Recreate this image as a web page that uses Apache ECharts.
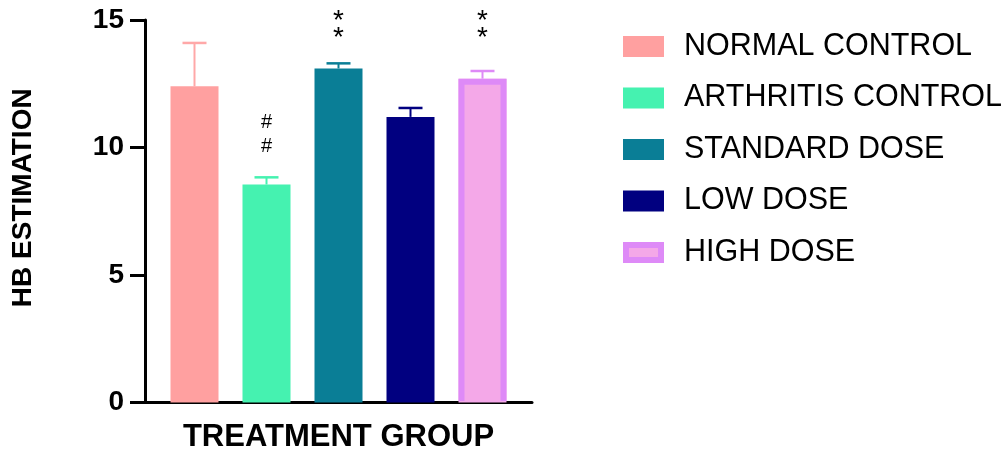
<!DOCTYPE html>
<html>
<head>
<meta charset="utf-8">
<script src="https://cdn.jsdelivr.net/npm/echarts@6/dist/echarts.min.js"></script>
<style>
  html, body { margin: 0; padding: 0; background: #ffffff; }
  #chart { width: 1008px; height: 450px; }
</style>
</head>
<body>
<div id="chart"></div>
<script>
// Treatment groups with mean haemoglobin values and their error (SEM)
const groups = ['NORMAL CONTROL', 'ARTHRITIS CONTROL', 'STANDARD DOSE', 'LOW DOSE', 'HIGH DOSE'];
const means = [12.4, 8.55, 13.1, 11.2, 12.7];
const errors = [1.7, 0.28, 0.2, 0.35, 0.3];
// Significance marks shown above each bar
const marks = ['', '#\n#', '*\n*', '', '*\n*'];
// Value axis range and tick step
const yMin = 0;
const yMax = 15;
const yStep = 5;

// Styling
const fills = ['#FFA0A0', '#45F2B0', '#0A7E96', '#010080', '#F4A8E8'];
const edges = [null, null, null, null, '#DE8AF7'];
const errColors = ['#FFA8A8', '#45F2B0', '#0A7E96', '#010080', '#DE8AF7'];
const markDistance = [0, 26, 22, 0, 32];
const FONT = "'Liberation Sans', Arial, sans-serif";
const BAR_W = 48;
const BAR_GAP = '50%';

function markStyle(m) {
  if (m.indexOf('#') >= 0) return { fontSize: 20, lineHeight: 24 };
  return { fontSize: 28, lineHeight: 17 };
}

const barSeries = groups.map((g, i) => ({
  name: g,
  type: 'bar',
  barWidth: BAR_W,
  barGap: BAR_GAP,
  data: [means[i]],
  itemStyle: { color: fills[i] },
  z: 2,
  label: Object.assign({
    show: marks[i] !== '',
    position: 'top',
    distance: markDistance[i],
    formatter: marks[i],
    color: '#000',
    fontFamily: FONT
  }, markStyle(marks[i]))
}));

// Error bars (and inset outline for outlined groups) drawn on the same band
const errSeries = {
  type: 'custom',
  name: 'err',
  z: 5,
  silent: true,
  encode: { x: 0, y: 1 },
  data: groups.map((g, i) => [0, means[i], errors[i], i]),
  renderItem: function (params, api) {
    const i = api.value(3);
    const layout = api.barLayout ? api.barLayout({ count: groups.length, barWidth: BAR_W, barGap: BAR_GAP }) : null;
    const base = api.coord([0, 0]);
    const off = layout ? layout[i].offsetCenter : (i - 2) * 72;
    const cx = base[0] + off;
    const top = api.coord([0, api.value(1)]);
    const hi = api.coord([0, api.value(1) + api.value(2)]);
    const c = errColors[i];
    const children = [
      { type: 'line', shape: { x1: cx, y1: top[1], x2: cx, y2: hi[1] }, style: { stroke: c, lineWidth: 2 } },
      { type: 'line', shape: { x1: cx - 12, y1: hi[1], x2: cx + 12, y2: hi[1] }, style: { stroke: c, lineWidth: 2.5 } }
    ];
    if (edges[i]) {
      const half = BAR_W / 2, lw = 6;
      const l = cx - half + lw / 2, r = cx + half - lw / 2, t = top[1] + lw / 2, b = base[1] - 1.5;
      children.push({
        type: 'polyline',
        shape: { points: [[l, b], [l, t], [r, t], [r, b]] },
        style: { fill: null, stroke: edges[i], lineWidth: lw, lineJoin: 'miter' }
      });
    }
    return { type: 'group', children: children };
  }
};

const highIcon = 'image://data:image/svg+xml;utf8,' + encodeURIComponent(
  '<svg xmlns="http://www.w3.org/2000/svg" width="41" height="21">' +
  '<rect x="0" y="0" width="41" height="21" fill="#DE8AF7"/>' +
  '<rect x="6" y="6" width="29" height="9" fill="#F4A8E8"/></svg>');

const chart = echarts.init(document.getElementById('chart'), null, { renderer: 'canvas' });
chart.setOption({
  animation: false,
  backgroundColor: '#ffffff',
  textStyle: { fontFamily: FONT },
  grid: { left: 145, right: 476, top: 20, bottom: 47.5, containLabel: false, outerBoundsMode: 'none' },
  legend: {
    orient: 'vertical',
    left: 618,
    top: 26,
    itemWidth: 41,
    itemHeight: 21,
    itemGap: 20.5,
    icon: 'rect',
    textStyle: { fontFamily: FONT, fontSize: 30.5, lineHeight: 31, color: '#000', padding: [0, 0, 0, 15] },
    data: groups.map((g, i) => i === 4 ? { name: g, icon: highIcon } : { name: g })
  },
  xAxis: {
    type: 'category',
    data: [''],
    name: 'TREATMENT GROUP',
    nameLocation: 'middle',
    nameGap: 19,
    nameTextStyle: { fontFamily: FONT, fontSize: 31, fontWeight: 'bold', color: '#000' },
    axisLine: { lineStyle: { color: '#000', width: 3 } },
    axisTick: { show: false },
    axisLabel: { show: false }
  },
  yAxis: {
    type: 'value',
    min: yMin,
    max: yMax,
    interval: yStep,
    name: 'HB ESTIMATION',
    nameLocation: 'middle',
    nameGap: 108,
    nameTextStyle: { fontFamily: FONT, fontSize: 28, fontWeight: 'bold', color: '#000', padding: [0, 0, 0, 27] },
    axisLine: { show: true, lineStyle: { color: '#000', width: 3 } },
    axisTick: { show: true, length: 15, lineStyle: { color: '#000', width: 3 } },
    axisLabel: { fontFamily: FONT, fontSize: 28, fontWeight: 'bold', color: '#000', margin: 21 },
    splitLine: { show: false }
  },
  series: barSeries.concat([errSeries])
});
</script>
</body>
</html>
